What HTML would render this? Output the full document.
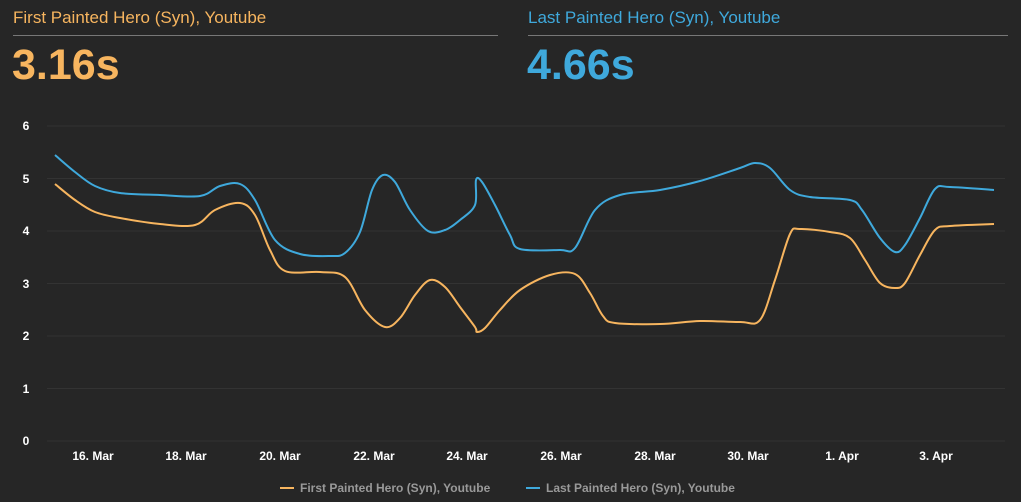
<!DOCTYPE html>
<html><head><meta charset="utf-8"><style>
body{margin:0;width:1021px;height:502px;background:#262626;overflow:hidden;font-family:"Liberation Sans",sans-serif}
.t{position:absolute;font-size:17px}
.v{position:absolute;font-size:43px;font-weight:bold;top:41px;letter-spacing:0px}
.hr{position:absolute;top:35px;height:1px;background:#777}
</style></head><body>
<div class="t" style="left:13px;top:8px;color:#f7b55f">First Painted Hero (Syn), Youtube</div>
<div class="hr" style="left:13px;width:485px"></div>
<div class="v" style="left:12px;color:#f7b55f">3.16s</div>
<div class="t" style="left:528px;top:8px;color:#3fa9dc">Last Painted Hero (Syn), Youtube</div>
<div class="hr" style="left:528px;width:480px"></div>
<div class="v" style="left:527px;color:#3fa9dc">4.66s</div>
<svg id="s" width="1021" height="502" style="position:absolute;left:0;top:0" font-family="Liberation Sans, sans-serif">
<g stroke="#333" stroke-width="1">
<line x1="47" x2="1005" y1="126" y2="126"/><line x1="47" x2="1005" y1="178.5" y2="178.5"/><line x1="47" x2="1005" y1="231" y2="231"/><line x1="47" x2="1005" y1="283.5" y2="283.5"/><line x1="47" x2="1005" y1="336" y2="336"/><line x1="47" x2="1005" y1="388.5" y2="388.5"/><line x1="47" x2="1005" y1="441" y2="441"/>
</g>
<g fill="#fff" font-size="12" font-weight="bold" text-anchor="middle">
<text x="26" y="130">6</text><text x="26" y="183">5</text><text x="26" y="235">4</text><text x="26" y="288">3</text><text x="26" y="340">2</text><text x="26" y="393">1</text><text x="26" y="445">0</text>
<text x="93" y="460">16. Mar</text><text x="186" y="460">18. Mar</text><text x="280" y="460">20. Mar</text><text x="374" y="460">22. Mar</text><text x="467" y="460">24. Mar</text><text x="561" y="460">26. Mar</text><text x="655" y="460">28. Mar</text><text x="748" y="460">30. Mar</text><text x="842" y="460">1. Apr</text><text x="936" y="460">3. Apr</text>
</g>
<line x1="280" x2="294" y1="488" y2="488" stroke="#f7b55f" stroke-width="2"/>
<text x="300" y="492" fill="#999" font-size="12" font-weight="bold">First Painted Hero (Syn), Youtube</text>
<line x1="526" x2="540" y1="488" y2="488" stroke="#3fa9dc" stroke-width="2"/>
<text x="546" y="492" fill="#999" font-size="12" font-weight="bold">Last Painted Hero (Syn), Youtube</text>
<path id="o" fill="none" stroke="#f7b55f" stroke-width="2"/>
<path id="b" fill="none" stroke="#3fa9dc" stroke-width="2"/>
</svg>
<script>
function cr(p){let d="M"+p[0][0]+","+p[0][1];for(let i=0;i<p.length-1;i++){const a=p[Math.max(0,i-1)],b=p[i],c=p[i+1],e=p[Math.min(p.length-1,i+2)];const t=6;d+=" C"+(b[0]+(c[0]-a[0])/t)+","+(b[1]+(c[1]-a[1])/t)+" "+(c[0]-(e[0]-b[0])/t)+","+(c[1]-(e[1]-b[1])/t)+" "+c[0]+","+c[1];}return d;}
const o=[[55,184],[75,200],[95,212],[120,218],[160,224],[195,225],[215,210],[240,203],[255,215],[270,250],[285,271],[320,272],[345,277],[365,310],[385,327],[400,318],[415,295],[430,280],[445,287],[460,307],[475,327],[477,332],[485,328],[500,310],[520,290],[550,275],[575,274],[590,293],[603,316],[615,323],[660,324],[700,321],[740,322],[760,320],[775,280],[790,234],[800,229],[830,232],[850,238],[865,260],[880,283],[895,288],[905,283],[920,255],[935,230],[950,226],[994,224]];
const b=[[55,155],[75,172],[95,186],[120,193],[160,195],[200,196],[220,186],[240,184],[255,200],[275,240],[300,254],[330,256],[345,253],[360,232],[372,190],[383,175],[395,182],[410,210],[428,231],[445,230],[460,220],[475,205],[476,180],[482,182],[495,205],[510,235],[520,249],[560,250],[575,248],[595,210],[620,195],[660,190],[700,181],[740,168],[755,163],[770,168],[790,190],[810,197],[850,200],[862,210],[880,238],[895,252],[905,245],[920,218],[935,189],[950,187],[994,190]];
document.getElementById("o").setAttribute("d",cr(o));
document.getElementById("b").setAttribute("d",cr(b));
</script>
</body></html>
